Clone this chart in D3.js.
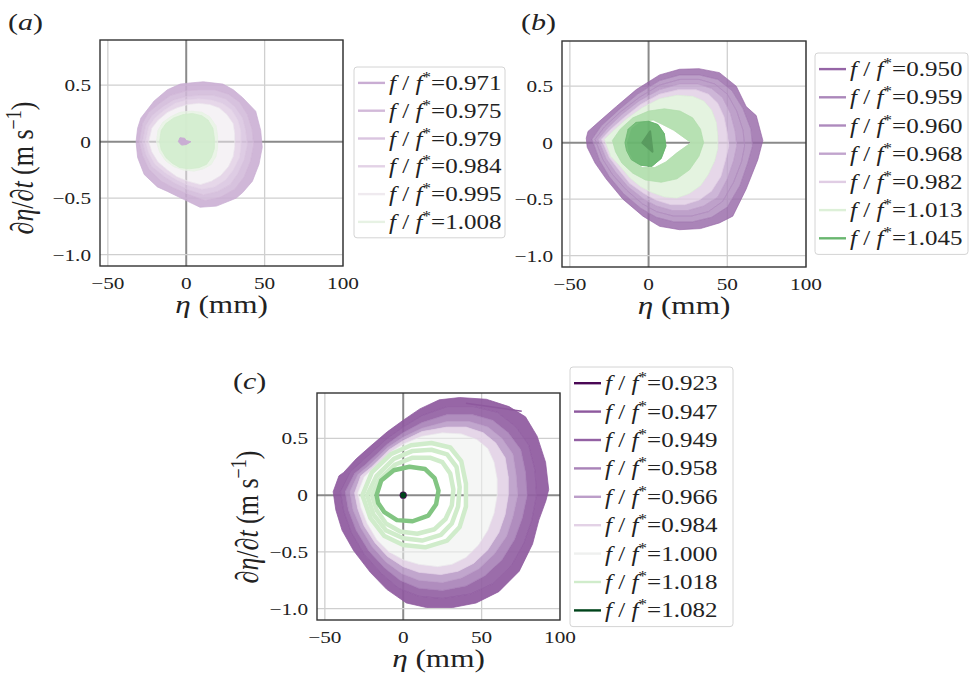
<!DOCTYPE html>
<html>
<head>
<meta charset="utf-8">
<script src="https://cdn.jsdelivr.net/npm/d3@7"></script>
<style>
  body { margin: 0; background: #fff; }
  text { font-family: "Liberation Serif", "Times New Roman", Times, serif; fill: #222; }
</style>
</head>
<body>
<script>
const width = 972, height = 680;

// legend values f/f* per panel
const fA = [0.971, 0.975, 0.979, 0.984, 0.995, 1.008];
const fB = [0.950, 0.959, 0.960, 0.968, 0.982, 1.013, 1.045];
const fC = [0.923, 0.947, 0.949, 0.958, 0.966, 0.984, 1.000, 1.018, 1.082];

const etaTicks = [-50, 0, 50, 100];
const etaTickLabels = ["\u221250", "0", "50", "100"];
const velTicks = [-1.0, -0.5, 0, 0.5];
const velTickLabels = ["\u22121.0", "\u22120.5", "0", "0.5"];

// phase portraits: [eta (mm), deta/dt (m/s)]
// each band is the outer edge of the region swept by one run, outermost first

// (a)
const bandFA = [0.971, 0.975, 0.979, 0.984, 0.995, 1.008];
const bandA = [
  [[-32,0.0],[-31,0.12],[-28.9,0.21],[-20.5,0.36],[-12,0.46],[-3.8,0.51],[2.5,0.52],[10.9,0.53],[23.4,0.51],[30,0.46],[36,0.39],[44.3,0.27],[47.5,0.1],[48.5,-0.05],[46.4,-0.2],[42.2,-0.35],[36,-0.45],[31.8,-0.5],[19.3,-0.57],[8.8,-0.58],[-1.7,-0.51],[-12,-0.44],[-18.4,-0.4],[-26.8,-0.29],[-31,-0.14]],
  [[-30,0.0],[-28,0.16],[-24,0.26],[-17,0.34],[-10,0.41],[0,0.45],[8,0.46],[18,0.46],[27,0.42],[34,0.35],[39,0.24],[42,0.11],[43,-0.03],[41,-0.17],[37,-0.31],[31,-0.42],[22,-0.49],[12,-0.52],[2,-0.47],[-8,-0.41],[-16,-0.35],[-24,-0.24],[-28,-0.12]],
  [[-28,0.0],[-26,0.14],[-22,0.23],[-15,0.31],[-8,0.37],[0,0.4],[8,0.41],[17,0.41],[25,0.38],[31,0.31],[36,0.21],[38,0.1],[39,-0.03],[37,-0.16],[33,-0.28],[28,-0.38],[20,-0.44],[11,-0.47],[2,-0.43],[-7,-0.37],[-14,-0.31],[-22,-0.22],[-26,-0.11]],
  [[-26,0.0],[-24,0.13],[-20,0.21],[-14,0.28],[-7,0.34],[0,0.37],[8,0.38],[16,0.37],[23,0.34],[29,0.28],[33,0.19],[35,0.09],[35,-0.03],[34,-0.14],[30,-0.25],[25,-0.34],[18,-0.4],[10,-0.42],[2,-0.39],[-6,-0.34],[-13,-0.28],[-20,-0.2],[-24,-0.1]],
  [[-24,0.0],[-22,0.12],[-18,0.19],[-12,0.26],[-6,0.3],[1,0.33],[8,0.34],[15,0.33],[21,0.3],[26,0.24],[30,0.16],[31,0.07],[31,-0.04],[30,-0.13],[27,-0.22],[22,-0.3],[16,-0.35],[9,-0.38],[1,-0.35],[-6,-0.31],[-12,-0.25],[-18,-0.18],[-22,-0.09]],
  [[-19,0.0],[-18,0.1],[-15,0.17],[-10,0.22],[-4,0.26],[3,0.27],[10,0.26],[15,0.22],[19,0.14],[20,0.05],[20,-0.05],[19,-0.13],[16,-0.2],[11,-0.24],[5,-0.26],[-2,-0.25],[-8,-0.22],[-13,-0.17],[-17,-0.09]]
];
const holeA = [null, null, null, null, null, null];
// where the 1.008 cycles pile up
const denseFA = 1.008;
const denseA = [[-17,0.0],[-16,0.1],[-13,0.16],[-8,0.21],[-2,0.24],[4,0.25],[10,0.23],[14,0.19],[17,0.12],[18,0.03],[18,-0.06],[16,-0.14],[13,-0.2],[8,-0.23],[2,-0.24],[-4,-0.23],[-9,-0.19],[-13,-0.14],[-16,-0.07]];
const denseHoleA = null;
const blobFA = 0.971;
const blobA = [[-5,0.0],[-4,0.035],[-1,0.03],[0,0.01],[3,0.0],[0,-0.025],[-3,-0.03]];

// (b)
const bandFB = [0.950, 0.959, 0.960, 0.968, 0.982, 1.013, 1.045];
const bandB = [
  [[-39.6,0.04],[-38.5,0.1],[-32,0.18],[-20.5,0.32],[-7.8,0.47],[7,0.6],[19.7,0.65],[32,0.655],[45,0.62],[55.7,0.5],[62,0.32],[68.4,0.24],[72.6,0.02],[69.4,-0.15],[62,-0.41],[53.5,-0.65],[45,-0.71],[33,-0.76],[19.7,-0.77],[7,-0.74],[-3.6,-0.65],[-16.3,-0.5],[-27,-0.32],[-34,-0.18],[-39,-0.04]],
  [[-36,0.03],[-30,0.15],[-19,0.29],[-7,0.43],[7,0.55],[20,0.6],[32,0.6],[44,0.56],[53,0.46],[60,0.3],[65,0.12],[66,-0.03],[63,-0.18],[58,-0.38],[50,-0.57],[40,-0.66],[28,-0.7],[16,-0.7],[5,-0.66],[-5,-0.58],[-16,-0.45],[-25,-0.3],[-31,-0.16]],
  [[-34,0.03],[-28,0.14],[-18,0.27],[-6,0.4],[7,0.51],[20,0.56],[32,0.56],[42,0.52],[50,0.43],[56,0.28],[60,0.11],[61,-0.03],[59,-0.17],[54,-0.35],[47,-0.52],[38,-0.61],[27,-0.65],[16,-0.65],[5,-0.61],[-4,-0.54],[-14,-0.42],[-23,-0.28],[-29,-0.15]],
  [[-32,0.03],[-26,0.13],[-17,0.25],[-6,0.37],[7,0.47],[20,0.52],[31,0.52],[40,0.48],[47,0.4],[52,0.26],[55,0.1],[56,-0.03],[54,-0.16],[50,-0.32],[44,-0.48],[35,-0.56],[25,-0.6],[15,-0.6],[5,-0.56],[-3,-0.5],[-13,-0.39],[-21,-0.26],[-27,-0.14]],
  [[-30,0.03],[-24,0.12],[-15,0.23],[-5,0.34],[7,0.43],[19,0.47],[30,0.47],[38,0.43],[44,0.35],[48,0.23],[50,0.09],[51,-0.03],[49,-0.15],[46,-0.3],[40,-0.43],[32,-0.51],[23,-0.55],[14,-0.55],[5,-0.51],[-3,-0.45],[-12,-0.36],[-19,-0.24],[-25,-0.13]],
  [[-28,0.03],[-22,0.11],[-14,0.21],[-4,0.31],[7,0.39],[18,0.42],[28,0.41],[35,0.37],[40,0.29],[43,0.18],[44,0.06],[44,-0.05],[42,-0.16],[38,-0.28],[33,-0.38],[26,-0.45],[18,-0.49],[10,-0.48],[2,-0.44],[-5,-0.39],[-12,-0.31],[-18,-0.21],[-24,-0.12]],
  [[-15,0.0],[-13,0.12],[-8,0.18],[0,0.19],[6,0.16],[10,0.08],[11,-0.03],[8,-0.14],[2,-0.21],[-5,-0.2],[-11,-0.15],[-14,-0.07]]
];
// empty "eye" inside the 1.013 run
const eyeB = [[-14,0.0],[-11,0.13],[-5,0.19],[3,0.2],[9,0.16],[16,0.11],[27,0.0],[18,-0.09],[11,-0.17],[4,-0.22],[-4,-0.22],[-10,-0.16],[-13,-0.08]];
const holeB = [null, null, null, null, null, eyeB, null];
const denseFB = 1.013;
const denseB = [[-23,0.02],[-18,0.12],[-10,0.22],[0,0.28],[10,0.3],[20,0.28],[28,0.22],[33,0.12],[35,0.0],[32,-0.12],[26,-0.24],[18,-0.32],[8,-0.35],[-2,-0.33],[-10,-0.27],[-17,-0.18],[-21,-0.08]];
const denseHoleB = eyeB;
const blobFB = 1.045;
const blobB = [[-4,0.0],[1,0.1],[2.5,-0.08]];

// (c)
const bandFC = [0.947, 0.949, 0.958, 0.966, 0.984, 1.000];
const bandC = [
  [[-44.7,0.03],[-41,0.17],[-38,0.2],[-30,0.32],[-21,0.43],[-10,0.56],[0,0.66],[10.6,0.76],[23,0.84],[36,0.86],[53,0.845],[67.5,0.78],[78,0.69],[85.4,0.52],[90.8,0.29],[92.8,0.05],[91,-0.05],[86.5,-0.22],[82.5,-0.43],[74,-0.67],[61,-0.85],[46.5,-0.95],[31.6,-0.99],[14.8,-0.99],[2,-0.95],[-10.5,-0.83],[-21,-0.68],[-31.6,-0.49],[-39,-0.31],[-43,-0.13]],
  [[-40,0.03],[-34,0.2],[-27,0.29],[-10,0.5],[0,0.6],[12,0.7],[28,0.78],[45,0.78],[60,0.73],[72,0.6],[80,0.44],[84,0.22],[85,0.0],[82,-0.22],[77,-0.42],[69,-0.62],[57,-0.78],[43,-0.87],[25,-0.91],[10,-0.89],[-3,-0.82],[-14,-0.69],[-25,-0.52],[-33,-0.33],[-38,-0.14]],
  [[-37,0.03],[-31,0.19],[-24,0.27],[-10,0.45],[0,0.55],[12,0.64],[28,0.71],[44,0.71],[57,0.66],[67,0.55],[75,0.4],[78,0.2],[79,0.0],[76,-0.2],[71,-0.39],[63,-0.57],[52,-0.71],[40,-0.8],[25,-0.84],[10,-0.82],[-2,-0.75],[-12,-0.64],[-22,-0.49],[-30,-0.31],[-35,-0.13]],
  [[-34,0.03],[-29,0.18],[-22,0.26],[-10,0.42],[0,0.51],[12,0.59],[28,0.65],[42,0.65],[54,0.6],[63,0.5],[70,0.36],[72,0.18],[73,0.0],[70,-0.19],[66,-0.36],[58,-0.52],[48,-0.65],[37,-0.73],[25,-0.77],[10,-0.75],[-1,-0.69],[-11,-0.59],[-20,-0.45],[-27,-0.29],[-32,-0.13]],
  [[-31,0.02],[-27,0.17],[-20,0.25],[-9,0.4],[0,0.48],[12,0.56],[28,0.6],[40,0.6],[51,0.55],[59,0.46],[65,0.33],[67,0.16],[67,0.0],[65,-0.17],[61,-0.33],[54,-0.48],[45,-0.6],[35,-0.67],[24,-0.7],[10,-0.68],[0,-0.63],[-10,-0.54],[-18,-0.42],[-25,-0.27],[-29,-0.12]],
  [[-29,0.02],[-25,0.16],[-19,0.24],[-8,0.38],[0,0.45],[12,0.52],[25,0.55],[37,0.54],[47,0.49],[54,0.41],[58,0.29],[60,0.14],[60,0.0],[58,-0.16],[54,-0.31],[48,-0.44],[40,-0.55],[31,-0.61],[22,-0.63],[10,-0.61],[0,-0.57],[-9,-0.5],[-17,-0.39],[-23,-0.25],[-27,-0.11]]
];
// separate 1.018 cycles (thin), and the one where they pile up
const loopFC = 1.018;
const loopsC = [
  [[-26,0.0],[-20,0.2],[-8,0.36],[5,0.44],[18,0.46],[30,0.42],[37,0.3],[40,0.1],[40,-0.1],[36,-0.28],[28,-0.4],[14,-0.46],[0,-0.44],[-12,-0.36],[-21,-0.2]],
  [[-23,0.0],[-17,0.17],[-6,0.32],[6,0.39],[18,0.4],[28,0.36],[34,0.25],[36,0.07],[35,-0.1],[31,-0.25],[24,-0.35],[12,-0.4],[0,-0.38],[-11,-0.31],[-19,-0.17]],
  [[-20,0.0],[-15,0.14],[-5,0.27],[6,0.33],[17,0.33],[25,0.29],[30,0.19],[32,0.05],[31,-0.09],[27,-0.21],[20,-0.3],[9,-0.34],[-2,-0.32],[-11,-0.25],[-17,-0.13]]
];
const holeC = [null, null, null, null, null, loopsC[0]];
const denseLoopC = [[-17,0.0],[-14,0.13],[-6,0.22],[4,0.25],[14,0.23],[20,0.15],[22.5,0.04],[21,-0.08],[16,-0.18],[6,-0.23],[-4,-0.22],[-12,-0.15],[-16,-0.07]];
const stragglerC = [[40,0.81],[75.6,0.74]];
const dotFC = [0.923, 1.082];
const dotEtaC = [0, 0];
const dotVelC = [0, 0];

const color = d3.scaleDiverging([0.92, 1.0, 1.08], d3.interpolatePRGn).clamp(true);
const tOf = d3.scaleDiverging([0.92, 1.0, 1.08], t => t).clamp(true);
// many overlapping translucent cycles read darker than a single one
const pileUp = f => d3.interpolatePRGn(Math.max(0, Math.min(1, 0.5 + (tOf(f) - 0.5) * 2.2)));

const SX = 1.25; // glyphs in the figure are drawn a little wide

const svg = d3.select("body").append("svg")
  .attr("width", width).attr("height", height)
  .attr("viewBox", [0, 0, width, height]);

const panels = [
  { id: "a", x0: 100, x1: 343, y0: 40, y1: 266, f: fA, bands: bandA, bandF: bandFA, holes: holeA,
    dense: denseA, denseHole: denseHoleA, denseF: denseFA, op: 0.88,
    label: [8, 30], ylab: [33, 168],
    legend: { x: 354, y: 67, w: 151, step: 27.8 } },
  { id: "b", x0: 562, x1: 806, y0: 41, y1: 267, f: fB, bands: bandB, bandF: bandFB, holes: holeB,
    dense: denseB, denseHole: denseHoleB, denseF: denseFB, op: 0.8,
    label: [521, 30], ylab: null,
    legend: { x: 815, y: 53, w: 153, step: 28.2 } },
  { id: "c", x0: 317, x1: 560, y0: 393, y1: 620, f: fC, bands: bandC, bandF: bandFC, holes: holeC,
    dense: null, op: 0.92,
    label: [233, 389], ylab: [258, 517],
    legend: { x: 570, y: 367, w: 163, step: 28.4 } }
];

function stretched(g, x, y, size, anchor) {
  return g.append("text")
    .attr("transform", `translate(${x},${y}) scale(${SX},1)`)
    .attr("font-size", size)
    .attr("text-anchor", anchor);
}

panels.forEach(p => {
  const x = d3.scaleLinear([-55, 100], [p.x0, p.x1]);
  const y = d3.scaleLinear([-1.1, 0.9], [p.y1, p.y0]);
  const ring = d3.line(d => x(d[0]), d => y(d[1])).curve(d3.curveLinearClosed);
  const open = d3.line(d => x(d[0]), d => y(d[1]));
  const g = svg.append("g");

  g.append("clipPath").attr("id", "clip-" + p.id)
    .append("rect").attr("x", p.x0).attr("y", p.y0)
    .attr("width", p.x1 - p.x0).attr("height", p.y1 - p.y0);

  // grid
  const grid = g.append("g");
  grid.selectAll(".gx").data(etaTicks).join("line")
    .attr("x1", d => x(d)).attr("x2", d => x(d))
    .attr("y1", p.y0).attr("y2", p.y1)
    .attr("stroke", d => d === 0 ? "#8a8a8a" : "#cfcfcf")
    .attr("stroke-width", d => d === 0 ? 2 : 1.3);
  grid.selectAll(".gy").data(velTicks).join("line")
    .attr("y1", d => y(d)).attr("y2", d => y(d))
    .attr("x1", p.x0).attr("x2", p.x1)
    .attr("stroke", d => d === 0 ? "#8a8a8a" : "#cfcfcf")
    .attr("stroke-width", d => d === 0 ? 2 : 1.3);

  const data = g.append("g").attr("clip-path", `url(#clip-${p.id})`);

  p.bands.forEach((pts, i) => {
    const inner = p.holes[i] || p.bands[i + 1];
    const f = p.bandF[i];
    const c = color(f);
    // near-neutral runs are faint enough that the grid shows through them
    const op = Math.abs(tOf(f) - 0.5) < 0.05 ? 0.6 : p.op;
    data.append("path")
      .attr("d", ring(pts) + (inner ? ring(inner) : ""))
      .attr("fill-rule", "evenodd")
      .attr("fill", c)
      .attr("fill-opacity", op)
      .attr("stroke", c)
      .attr("stroke-opacity", op)
      .attr("stroke-width", 0.8)
      .attr("stroke-linejoin", "round");
  });

  if (p.dense) {
    const c = pileUp(p.denseF);
    data.append("path")
      .attr("d", ring(p.dense) + (p.denseHole ? ring(p.denseHole) : ""))
      .attr("fill-rule", "evenodd")
      .attr("fill", c).attr("fill-opacity", 0.85)
      .attr("stroke", c).attr("stroke-opacity", 0.85).attr("stroke-width", 0.8);
  }

  if (p.id === "a") {
    data.append("path").attr("d", ring(blobA))
      .attr("fill", color(blobFA)).attr("stroke", color(blobFA)).attr("stroke-width", 1);
  }
  if (p.id === "b") {
    // redraw the 1.045 run on top of the eye, then its densest core
    data.append("path").attr("d", ring(bandB[6]))
      .attr("fill", color(blobFB)).attr("fill-opacity", 0.75)
      .attr("stroke", color(blobFB)).attr("stroke-opacity", 0.75).attr("stroke-width", 1);
    const c = d3.color(color(blobFB)).darker(0.45);
    data.append("path").attr("d", ring(blobB))
      .attr("fill", c).attr("stroke", c).attr("stroke-width", 2).attr("stroke-linejoin", "round");
  }
  if (p.id === "c") {
    data.append("path").attr("d", open(stragglerC))
      .attr("fill", "none").attr("stroke", color(0.947)).attr("stroke-width", 1.5);
    data.selectAll(".loop").data(loopsC).join("path")
      .attr("d", d => ring(d))
      .attr("fill", "none")
      .attr("stroke", color(loopFC))
      .attr("stroke-width", 4.5)
      .attr("stroke-linejoin", "round");
    data.append("path").attr("d", ring(denseLoopC))
      .attr("fill", "none")
      .attr("stroke", pileUp(loopFC))
      .attr("stroke-width", 4.5)
      .attr("stroke-linejoin", "round");
    data.selectAll(".dot").data(dotFC).join("circle")
      .attr("cx", (d, i) => x(dotEtaC[i]))
      .attr("cy", (d, i) => y(dotVelC[i]))
      .attr("r", (d, i) => i === 0 ? 3.6 : 2.8)
      .attr("fill", d => color(d));
  }

  // frame
  g.append("rect").attr("x", p.x0).attr("y", p.y0)
    .attr("width", p.x1 - p.x0).attr("height", p.y1 - p.y0)
    .attr("fill", "none").attr("stroke", "#333").attr("stroke-width", 1.4);

  // tick labels
  etaTicks.forEach((t, i) => {
    stretched(g, x(t), p.y1 + 23, 17, "middle").text(etaTickLabels[i]);
  });
  velTicks.forEach((t, i) => {
    stretched(g, p.x0 - 9, y(t) + 6, 17, "end").text(velTickLabels[i]);
  });

  // axis labels
  const xl = stretched(g, (p.x0 + p.x1) / 2, p.y1 + 47, 25, "middle");
  xl.append("tspan").attr("font-style", "italic").text("\u03b7");
  xl.append("tspan").text(" (mm)");

  if (p.ylab) {
    const yl = g.append("text")
      .attr("transform", `translate(${p.ylab[0]},${p.ylab[1]}) rotate(-90) scale(1,${SX})`)
      .attr("text-anchor", "middle").attr("font-size", 26);
    yl.append("tspan").text("\u2202");
    yl.append("tspan").attr("font-style", "italic").text("\u03b7");
    yl.append("tspan").text("/\u2202");
    yl.append("tspan").attr("font-style", "italic").text("t");
    yl.append("tspan").text(" (m s");
    yl.append("tspan").attr("dy", -10).attr("font-size", 18).text("\u22121");
    yl.append("tspan").attr("dy", 10).text(")");
  }

  // panel letter
  const pl = stretched(g, p.label[0], p.label[1], 24, "start");
  pl.append("tspan").text("(");
  pl.append("tspan").attr("font-style", "italic").text(p.id);
  pl.append("tspan").text(")");

  // legend
  const L = p.legend;
  const lg = g.append("g");
  lg.append("rect").attr("x", L.x).attr("y", L.y)
    .attr("width", L.w).attr("height", p.f.length * L.step + 4)
    .attr("rx", 3).attr("fill", "#fff").attr("fill-opacity", 0.85)
    .attr("stroke", "#d4d4d4").attr("stroke-width", 1);
  p.f.forEach((f, i) => {
    const cy = L.y + L.step / 2 + 2 + i * L.step;
    lg.append("line")
      .attr("x1", L.x + 4).attr("x2", L.x + 31)
      .attr("y1", cy).attr("y2", cy)
      .attr("stroke", color(f)).attr("stroke-width", 2.4);
    const t = stretched(lg, L.x + 35, cy + 7, 20, "start");
    t.append("tspan").attr("font-style", "italic").text("f");
    t.append("tspan").text(" / ");
    t.append("tspan").attr("font-style", "italic").text("f");
    t.append("tspan").attr("dy", -8).attr("font-size", 14).text("*");
    t.append("tspan").attr("dy", 8).text("=" + d3.format(".3f")(f));
  });
});
</script>
</body>
</html>
